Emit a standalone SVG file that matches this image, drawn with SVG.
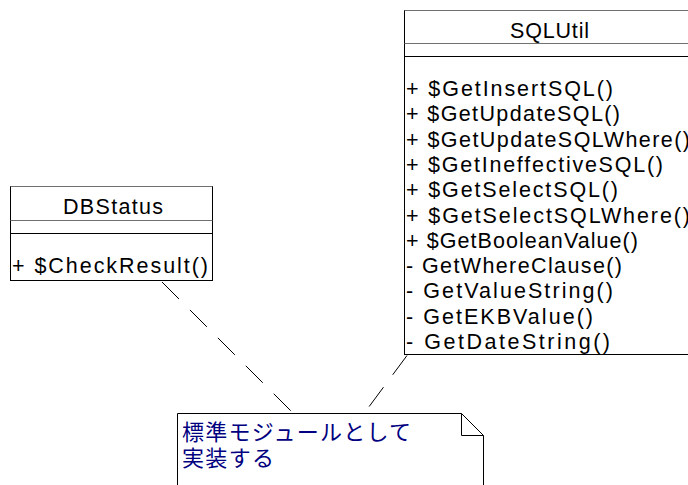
<svg xmlns="http://www.w3.org/2000/svg" width="688" height="485" viewBox="0 0 688 485">
<style>
.t{font-family:"Liberation Sans",Arial,sans-serif;font-size:21.5px;fill:#000}
.c{text-anchor:middle}
.jp{font-family:"Noto Sans CJK JP","Noto Sans CJK SC",sans-serif;font-size:22px;fill:#000080}
.box{fill:#fff;stroke:#000;stroke-width:1}
.gl{stroke:#707070;stroke-width:1;fill:none}
.bl{stroke:#000;stroke-width:1;fill:none}
.conn{stroke:#000;stroke-width:1;stroke-dasharray:24 15.5;fill:none}
</style>
<rect x="0" y="0" width="688" height="485" fill="#fff"/>
<g id="connectors">
<line class="conn" x1="162" y1="282" x2="293.5" y2="413.5"/>
<line class="conn" x1="407" y1="355.5" x2="364" y2="413.5"/>
</g>
<g id="DBStatus">
<rect class="box" x="10.5" y="186.5" width="202" height="94"/>
<line class="gl" x1="10.5" y1="186.5" x2="212.5" y2="186.5"/>
<line class="gl" x1="10.5" y1="220.5" x2="212.5" y2="220.5"/>
<line class="bl" x1="10.5" y1="233.5" x2="212.5" y2="233.5"/>
<text class="t c" x="113" y="214" textLength="100" lengthAdjust="spacing">DBStatus</text>
<text class="t" x="12" y="273" textLength="196" lengthAdjust="spacing">+ $CheckResult()</text>
</g>
<g id="SQLUtil">
<rect class="box" x="404.5" y="10.5" width="291" height="344"/>
<line class="gl" x1="404.5" y1="10.5" x2="695.5" y2="10.5"/>
<line class="gl" x1="404.5" y1="43.5" x2="695.5" y2="43.5"/>
<line class="bl" x1="404.5" y1="56.5" x2="695.5" y2="56.5"/>
<text class="t c" x="549.5" y="37.5" textLength="79" lengthAdjust="spacing">SQLUtil</text>
<text class="t" x="406" y="96" textLength="207" lengthAdjust="spacing">+ $GetInsertSQL()</text>
<text class="t" x="406" y="121.3" textLength="214" lengthAdjust="spacing">+ $GetUpdateSQL()</text>
<text class="t" x="406" y="146.6" textLength="284" lengthAdjust="spacing">+ $GetUpdateSQLWhere()</text>
<text class="t" x="406" y="171.9" textLength="257" lengthAdjust="spacing">+ $GetIneffectiveSQL()</text>
<text class="t" x="406" y="197.2" textLength="212" lengthAdjust="spacing">+ $GetSelectSQL()</text>
<text class="t" x="406" y="222.5" textLength="284" lengthAdjust="spacing">+ $GetSelectSQLWhere()</text>
<text class="t" x="406" y="247.8" textLength="232" lengthAdjust="spacing">+ $GetBooleanValue()</text>
<text class="t" x="406" y="273.1" textLength="216" lengthAdjust="spacing">- GetWhereClause()</text>
<text class="t" x="406" y="298.4" textLength="207" lengthAdjust="spacing">- GetValueString()</text>
<text class="t" x="406" y="323.7" textLength="187" lengthAdjust="spacing">- GetEKBValue()</text>
<text class="t" x="406" y="349" textLength="204" lengthAdjust="spacing">- GetDateString()</text>
</g>
<g id="note">
<path class="box" d="M177.5,487 V413.5 H461.5 L483.5,435.5 V487 Z"/>
<path class="bl" d="M461.5,413.5 V435.5 H483.5"/>
<text class="jp" x="182" y="440" textLength="229" lengthAdjust="spacing">標準モジュールとして</text>
<text class="jp" x="182" y="466" textLength="92" lengthAdjust="spacing">実装する</text>
</g>
</svg>
